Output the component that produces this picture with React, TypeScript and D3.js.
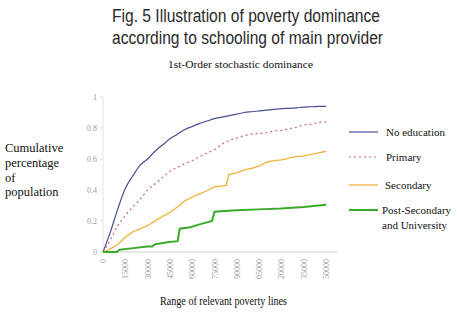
import * as d3 from "d3";

// poverty lines (x) shared by the smooth curves
const povertyLines = d3.range(0, 150001, 5000);

const noEducation = [
  0, 0.13, 0.28, 0.41, 0.49, 0.56, 0.6, 0.65, 0.69, 0.73, 0.76, 0.79, 0.81, 0.83, 0.845, 0.86,
  0.87, 0.88, 0.89, 0.9, 0.905, 0.91, 0.915, 0.92, 0.925, 0.927, 0.93, 0.935, 0.937, 0.94, 0.94,
];
const primary = [
  0, 0.08, 0.17, 0.235, 0.29, 0.34, 0.4, 0.44, 0.48, 0.52, 0.545, 0.57, 0.59, 0.615, 0.64, 0.66,
  0.695, 0.72, 0.735, 0.75, 0.76, 0.765, 0.77, 0.78, 0.785, 0.795, 0.805, 0.82, 0.825, 0.835, 0.84,
];

// step-like curves have their own x points
const secondaryLines = [
  0, 5000, 10000, 15000, 20000, 25000, 30000, 35000, 40000, 45000, 50000, 55000, 60000, 65000,
  70000, 75000, 83000, 84500, 90000, 95000, 100000, 105000, 110000, 115000, 120000, 125000,
  130000, 135000, 140000, 145000, 150000,
];
const secondary = [
  0, 0.02, 0.05, 0.095, 0.13, 0.15, 0.17, 0.2, 0.23, 0.255, 0.29, 0.33, 0.355, 0.375, 0.395, 0.42,
  0.43, 0.5, 0.51, 0.53, 0.54, 0.555, 0.58, 0.59, 0.595, 0.605, 0.615, 0.62, 0.63, 0.64, 0.65,
];
const postSecLines = [
  0, 9200, 11000, 20500, 29700, 33000, 35100, 44600, 50200, 51600, 58800, 65500, 73400, 75000,
  89900, 104700, 119600, 135100, 150000,
];
const postSecondary = [
  0, 0, 0.015, 0.025, 0.035, 0.035, 0.05, 0.065, 0.07, 0.15, 0.16, 0.18, 0.2, 0.26, 0.27, 0.275,
  0.28, 0.29, 0.305,
];

const xTicks = [0, 15000, 30000, 45000, 60000, 75000, 90000, 105000, 120000, 135000, 150000];
const xTickLabels = ["0", "15000", "30000", "45000", "60000", "75000", "90000", "05000", "20000", "35000", "50000"];
const yTicks = [0, 0.2, 0.4, 0.6, 0.8, 1];
const yTickLabels = ["0", "0.2", "0.4", "0.6", "0.8", "1"];

const series = [
  { name: "No education", xs: povertyLines, ys: noEducation, color: "#4c4c94", width: 1.2, dash: "", curve: d3.curveMonotoneX },
  { name: "Primary", xs: povertyLines, ys: primary, color: "#d2607a", width: 1.2, dash: "2,3", curve: d3.curveMonotoneX },
  { name: "Secondary", xs: secondaryLines, ys: secondary, color: "#eeb43a", width: 1.3, dash: "", curve: d3.curveLinear },
  { name: "Post-Secondary", xs: postSecLines, ys: postSecondary, color: "#3aaa2a", width: 2, dash: "", curve: d3.curveLinear },
];

const W = 457;
const H = 315;
const serif = "'Liberation Serif', 'Times New Roman', 'DejaVu Serif', serif";
const sans = "'Liberation Sans', Arial, sans-serif";

export default function App() {
  const x = d3.scaleLinear().domain([0, 150000]).range([103, 326]);
  const y = d3.scaleLinear().domain([0, 1]).range([252, 97]);

  const legendY = [136, 161, 189, 214];

  return (
    <svg
      width={W}
      height={H}
      style={{ position: "absolute", left: 0, top: 0, background: "#fff" }}
    >
      <g style={{ fontFamily: sans }} fontSize={18} fill="#2a2a2a">
        <text x={112} y={22} textLength={268} lengthAdjust="spacingAndGlyphs">
          Fig. 5 Illustration of poverty dominance
        </text>
        <text x={112} y={43.5} textLength={271} lengthAdjust="spacingAndGlyphs">
          according to schooling of main provider
        </text>
      </g>
      <text x={168} y={67.5} style={{ fontFamily: serif }} fontSize={11} fill="#111" textLength={145} lengthAdjust="spacingAndGlyphs">
        1st-Order stochastic dominance
      </text>

      {/* axes */}
      <line x1={103} x2={103} y1={y(1)} y2={y(0)} stroke="#e4e4e4" />
      <line x1={103} x2={337} y1={y(0)} y2={y(0)} stroke="#cfcfcf" />
      {yTicks.map((t, i) => (
        <g key={t}>
          <line x1={100} x2={103} y1={y(t)} y2={y(t)} stroke="#ddd" />
          <text x={97} y={y(t) + 3} style={{ fontFamily: serif }} fontSize={8} fill="#999" textAnchor="end">
            {yTickLabels[i]}
          </text>
        </g>
      ))}
      {xTicks.map((t, i) => (
        <text
          key={t}
          transform={`translate(${x(t) + 3},${259}) rotate(-90)`}
          style={{ fontFamily: serif }}
          fontSize={8}
          fill="#999"
          textAnchor="end"
        >
          {xTickLabels[i]}
        </text>
      ))}

      {/* curves */}
      {series.map((s) => {
        const line = d3
          .line<number>()
          .x((_, i) => x(s.xs[i]))
          .y((d) => y(d))
          .curve(s.curve);
        return (
          <path
            key={s.name}
            d={line(s.ys) ?? ""}
            fill="none"
            stroke={s.color}
            strokeWidth={s.width}
            strokeDasharray={s.dash || undefined}
          />
        );
      })}

      {/* legend */}
      {series.map((s, i) => (
        <line
          key={s.name}
          x1={349}
          x2={378}
          y1={legendY[i] - 4}
          y2={legendY[i] - 4}
          stroke={s.color}
          strokeWidth={s.width}
          strokeDasharray={s.dash || undefined}
        />
      ))}
      <g style={{ fontFamily: serif }} fontSize={11} fill="#111">
        <text x={386} y={legendY[0]}>No education</text>
        <text x={386} y={legendY[1]}>Primary</text>
        <text x={385} y={legendY[2]}>Secondary</text>
        <text x={382} y={legendY[3]}>Post-Secondary</text>
        <text x={382} y={legendY[3] + 15}>and University</text>
      </g>

      <g style={{ fontFamily: serif }} fontSize={12.5} fill="#111">
        <text x={5} y={152}>Cumulative</text>
        <text x={5} y={167}>percentage</text>
        <text x={5} y={182}>of</text>
        <text x={5} y={196}>population</text>
      </g>
      <text x={160} y={305} style={{ fontFamily: serif }} fontSize={12.5} fill="#111" textLength={127} lengthAdjust="spacingAndGlyphs">
        Range of relevant poverty lines
      </text>
    </svg>
  );
}
